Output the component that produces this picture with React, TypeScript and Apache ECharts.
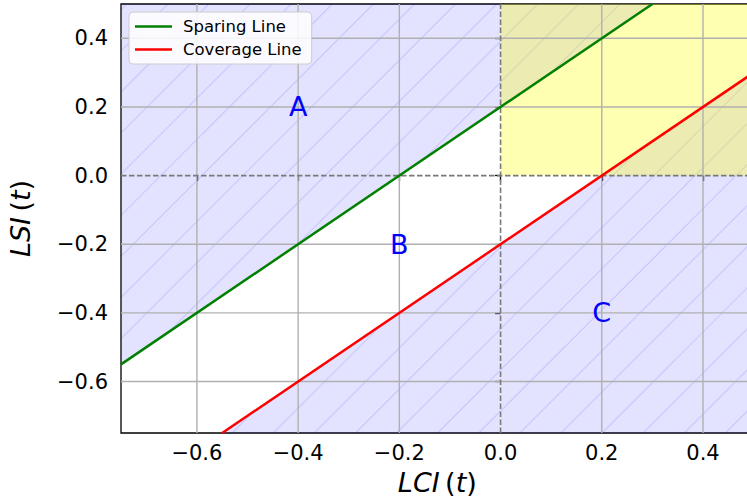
import React, { useEffect, useRef } from "react";
import * as echarts from "echarts";

// Axis extents and tick positions
const xRange = [-0.75, 0.5];
const yRange = [-0.75, 0.5];
const xTicks = [-0.6, -0.4, -0.2, 0.0, 0.2, 0.4];
const yTicks = [-0.6, -0.4, -0.2, 0.0, 0.2, 0.4];

// Threshold lines: LSI = LCI + 0.2 (sparing) and LSI = LCI - 0.2 (coverage)
const sparingLine = [
  [-0.75, -0.55],
  [0.3, 0.5],
];
const coverageLine = [
  [-0.55, -0.75],
  [0.5, 0.3],
];

// Shaded regions (above the sparing line, below the coverage line) and the positive quadrant
const regionA = [
  [-0.75, -0.55],
  [0.3, 0.5],
  [-0.75, 0.5],
];
const regionC = [
  [-0.55, -0.75],
  [0.5, 0.3],
  [0.5, -0.75],
];
const positiveQuadrant = [
  [0, 0],
  [0.5, 0.5],
];

// Region letters
const regionLabels: [number, number, string][] = [
  [-0.4, 0.2, "A"],
  [-0.2, -0.2, "B"],
  [0.2, -0.4, "C"],
];

const FONT = "DejaVu Sans";

const fmtTick = (v: number) => {
  const r = Math.round(v * 10) / 10;
  return r < 0 ? "\u2212" + Math.abs(r).toFixed(1) : r.toFixed(1);
};

// "/" hatch lines (x + y = c in pixel space) clipped to a convex polygon
function hatchSegments(poly: number[][], spacing: number, phase: number) {
  const sums = poly.map((p) => p[0] + p[1]);
  const cMin = Math.min(...sums);
  const cMax = Math.max(...sums);
  const segs: number[][][] = [];
  for (let k = Math.ceil((cMin - phase) / spacing); phase + k * spacing <= cMax; k++) {
    const c = phase + k * spacing;
    const pts: number[][] = [];
    for (let i = 0; i < poly.length; i++) {
      const a = poly[i];
      const b = poly[(i + 1) % poly.length];
      const fa = a[0] + a[1] - c;
      const fb = b[0] + b[1] - c;
      if ((fa <= 0 && fb >= 0) || (fa >= 0 && fb <= 0)) {
        if (fa === fb) {
          pts.push(a, b);
        } else {
          const t = fa / (fa - fb);
          pts.push([a[0] + t * (b[0] - a[0]), a[1] + t * (b[1] - a[1])]);
        }
      }
    }
    if (pts.length >= 2) {
      pts.sort((p, q) => p[0] - q[0]);
      segs.push([pts[0], pts[pts.length - 1]]);
    }
  }
  return segs;
}

const axisNameRich = {
  i: { fontSize: 27, fontStyle: "italic", fontFamily: FONT, color: "#000" },
  n: { fontSize: 27, fontFamily: FONT, color: "#000" },
};

export default function App() {
  const ref = useRef<HTMLDivElement>(null);

  useEffect(() => {
    if (!ref.current) return;
    const chart = echarts.init(ref.current, null, { renderer: "svg" });

    const renderBackground = (_params: any, api: any) => {
      const c = (p: number[]) => api.coord(p) as number[];
      const children: any[] = [];

      for (const poly of [regionA, regionC]) {
        const px = poly.map(c);
        children.push({
          type: "polygon",
          shape: { points: px },
          style: { fill: "rgba(0,0,255,0.11)" },
        });
        for (const [p, q] of hatchSegments(px, 41.1, 213)) {
          children.push({
            type: "line",
            shape: { x1: p[0], y1: p[1], x2: q[0], y2: q[1] },
            style: { stroke: "rgba(40,40,235,0.13)", lineWidth: 1.2 },
          });
        }
      }

      const q0 = c(positiveQuadrant[0]);
      const q1 = c(positiveQuadrant[1]);
      children.push({
        type: "rect",
        shape: {
          x: Math.min(q0[0], q1[0]),
          y: Math.min(q0[1], q1[1]),
          width: Math.abs(q1[0] - q0[0]),
          height: Math.abs(q1[1] - q0[1]),
        },
        style: { fill: "rgba(255,255,0,0.3)" },
      });

      const gridStyle = { stroke: "#b0b0b0", lineWidth: 1.4 };
      for (const x of xTicks) {
        if (x === 0) continue;
        const a = c([x, yRange[0]]);
        const b = c([x, yRange[1]]);
        children.push({ type: "line", shape: { x1: a[0], y1: a[1], x2: b[0], y2: b[1] }, style: gridStyle });
      }
      for (const y of yTicks) {
        if (y === 0) continue;
        const a = c([xRange[0], y]);
        const b = c([xRange[1], y]);
        children.push({ type: "line", shape: { x1: a[0], y1: a[1], x2: b[0], y2: b[1] }, style: gridStyle });
      }

      const dashStyle = { stroke: "#7a7a7a", lineWidth: 1.6, lineDash: [5.5, 2.5] };
      const h0 = c([xRange[0], 0]);
      const h1 = c([xRange[1], 0]);
      children.push({ type: "line", shape: { x1: h0[0], y1: h0[1], x2: h1[0], y2: h1[1] }, style: dashStyle });
      const v0 = c([0, yRange[0]]);
      const v1 = c([0, yRange[1]]);
      children.push({ type: "line", shape: { x1: v0[0], y1: v0[1], x2: v1[0], y2: v1[1] }, style: dashStyle });

      return { type: "group", children };
    };

    chart.setOption({
      animation: false,
      textStyle: { fontFamily: FONT },
      grid: {
        left: 121,
        top: 4,
        width: 632.6,
        height: 429,
        outerBoundsMode: "none",
        containLabel: false,
        show: true,
        borderColor: "#000",
        borderWidth: 1.3,
        backgroundColor: "transparent",
      },
      legend: {
        orient: "vertical",
        left: 129,
        top: 12,
        backgroundColor: "rgba(255,255,255,0.85)",
        borderColor: "#cccccc",
        borderWidth: 1,
        borderRadius: 4,
        padding: [6, 10, 6, 6],
        itemWidth: 37,
        itemHeight: 2.5,
        itemGap: 6,
        icon: "rect",
        textStyle: { fontSize: 16.5, color: "#000", fontFamily: FONT, padding: [0, 0, 0, 6] },
        data: ["Sparing Line", "Coverage Line"],
      },
      xAxis: {
        type: "value",
        min: xRange[0],
        max: xRange[1],
        name: "{i|LCI}{n|\u2009(}{i|t}{n|)}",
        nameLocation: "middle",
        nameGap: 36,
        nameTextStyle: { rich: axisNameRich },
        axisLine: { show: false },
        axisTick: {
          show: true,
          length: 5.5,
          customValues: xTicks,
          lineStyle: { color: "#000", width: 1.3 },
        },
        axisLabel: {
          customValues: xTicks,
          formatter: fmtTick,
          fontSize: 21,
          color: "#000",
          margin: 9,
          fontFamily: FONT,
        },
        splitLine: { show: false },
      },
      yAxis: {
        type: "value",
        min: yRange[0],
        max: yRange[1],
        name: "{i|LSI}{n|\u2009(}{i|t}{n|)}",
        nameLocation: "middle",
        nameGap: 87,
        nameTextStyle: { rich: axisNameRich },
        axisLine: { show: false },
        axisTick: {
          show: true,
          length: 5.5,
          customValues: yTicks,
          lineStyle: { color: "#000", width: 1.3 },
        },
        axisLabel: {
          customValues: yTicks,
          formatter: fmtTick,
          fontSize: 21,
          color: "#000",
          margin: 13,
          fontFamily: FONT,
        },
        splitLine: { show: false },
      },
      series: [
        {
          type: "custom",
          name: "regions",
          silent: true,
          z: 1,
          data: [[0, 0]],
          renderItem: renderBackground,
        },
        {
          type: "line",
          name: "Sparing Line",
          data: sparingLine,
          symbol: "none",
          z: 3,
          color: "#008000",
          lineStyle: { color: "#008000", width: 2.5 },
        },
        {
          type: "line",
          name: "Coverage Line",
          data: coverageLine,
          symbol: "none",
          z: 3,
          color: "#ff0000",
          lineStyle: { color: "#ff0000", width: 2.5 },
        },
        {
          type: "scatter",
          name: "labels",
          silent: true,
          z: 4,
          symbolSize: 1,
          itemStyle: { color: "rgba(0,0,0,0)", opacity: 1 },
          data: regionLabels.map((d) => ({ value: [d[0], d[1]], name: d[2] })),
          label: {
            show: true,
            position: "inside",
            formatter: (p: any) => p.name,
            fontSize: 27,
            color: "#0000ff",
            textBorderWidth: 0,
            fontFamily: FONT,
          },
        },
      ],
    });

    return () => chart.dispose();
  }, []);

  return (
    <div
      ref={ref}
      style={{ position: "fixed", left: 0, top: 0, width: 747, height: 503, background: "#fff" }}
    />
  );
}
